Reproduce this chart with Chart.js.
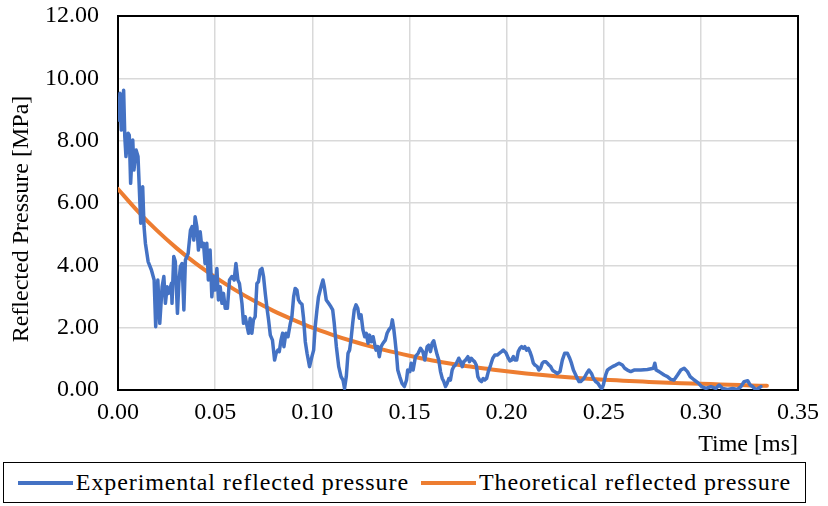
<!DOCTYPE html>
<html>
<head>
<meta charset="utf-8">
<script src="https://cdn.jsdelivr.net/npm/chart.js@4/dist/chart.umd.min.js"></script>
<style>
  html, body { margin: 0; padding: 0; background: #fff; }
  #wrap { position: relative; width: 828px; height: 506px; }
  #c { position: absolute; left: 0; top: 0; }
  #legend {
    position: absolute; left: 3px; top: 462px; width: 803px; height: 41px;
    box-sizing: border-box; border: 1.5px solid #000;
    display: flex; align-items: center; justify-content: center;
    font-family: "Liberation Serif", "Times New Roman", serif; font-size: 24px; color: #000;
    white-space: nowrap; letter-spacing: 0.9px;
  }
  .item { display: flex; align-items: center; }
  .item + .item { margin-left: 12px; }
  .swatch { width: 55px; height: 4px; margin-right: 3px; }
</style>
</head>
<body>
<div id="wrap">
  <canvas id="c" width="828" height="460"></canvas>
  <div id="legend"></div>
</div>
<script>
// ---- Data (time in ms, pressure in MPa) ----
const seriesNames = ['Experimental reflected pressure', 'Theoretical reflected pressure'];
const seriesColors = ['#4472C4', '#ED7D31'];

const expTime = [
0.0004,0.0010,0.0017,0.0029,0.0035,0.0041,0.0052,0.0058,0.0065,0.0076,0.0082,0.0093,0.0103,0.0110,0.0117,0.0127,0.0134,0.0141,0.0155,0.0172,
0.0186,0.0194,0.0205,0.0215,0.0227,0.0236,0.0244,0.0253,0.0261,0.0275,0.0278,0.0287,0.0295,0.0306,0.0313,0.0321,0.0330,0.0339,0.0347,0.0361,
0.0373,0.0381,0.0390,0.0397,0.0406,0.0414,0.0423,0.0431,0.0440,0.0448,0.0457,0.0465,0.0474,0.0483,0.0491,0.0500,0.0509,0.0517,0.0526,0.0535,
0.0543,0.0552,0.0563,0.0574,0.0586,0.0598,0.0607,0.0617,0.0625,0.0638,0.0646,0.0655,0.0663,0.0672,0.0680,0.0689,0.0697,0.0706,0.0715,0.0723,
0.0732,0.0741,0.0749,0.0758,0.0766,0.0775,0.0784,0.0795,0.0806,0.0814,0.0823,0.0830,0.0839,0.0847,0.0854,0.0864,0.0875,0.0887,0.0895,0.0904,
0.0912,0.0921,0.0929,0.0938,0.0947,0.0955,0.0964,0.0973,0.0986,0.0998,0.1007,0.1015,0.1024,0.1032,0.1045,0.1055,0.1062,0.1072,0.1084,0.1096,
0.1105,0.1113,0.1124,0.1136,0.1148,0.1158,0.1166,0.1175,0.1184,0.1192,0.1199,0.1208,0.1216,0.1225,0.1234,0.1242,0.1251,0.1261,0.1270,0.1278,
0.1287,0.1295,0.1303,0.1313,0.1320,0.1328,0.1337,0.1345,0.1354,0.1364,0.1376,0.1385,0.1393,0.1406,0.1412,0.1419,0.1426,0.1433,0.1440,0.1450,
0.1462,0.1474,0.1485,0.1491,0.1502,0.1509,0.1519,0.1531,0.1545,0.1557,0.1569,0.1579,0.1591,0.1599,0.1608,0.1617,0.1625,0.1634,0.1643,0.1651,
0.1660,0.1669,0.1677,0.1686,0.1694,0.1703,0.1711,0.1720,0.1728,0.1737,0.1746,0.1754,0.1763,0.1772,0.1780,0.1789,0.1801,0.1809,0.1818,0.1826,
0.1835,0.1844,0.1852,0.1861,0.1871,0.1880,0.1888,0.1897,0.1906,0.1918,0.1929,0.1940,0.1952,0.1964,0.1974,0.1983,0.1991,0.1998,0.2009,0.2017,
0.2026,0.2035,0.2043,0.2052,0.2060,0.2069,0.2077,0.2086,0.2094,0.2103,0.2112,0.2120,0.2129,0.2138,0.2146,0.2158,0.2166,0.2175,0.2184,0.2192,
0.2201,0.2210,0.2218,0.2227,0.2236,0.2244,0.2261,0.2275,0.2287,0.2299,0.2313,0.2325,0.2334,0.2344,0.2356,0.2364,0.2373,0.2381,0.2390,0.2398,
0.2412,0.2424,0.2437,0.2447,0.2459,0.2471,0.2481,0.2490,0.2498,0.2510,0.2519,0.2532,0.2545,0.2562,0.2579,0.2596,0.2608,0.2622,0.2639,0.2656,
0.2691,0.2725,0.2756,0.2763,0.2770,0.2785,0.2811,0.2828,0.2845,0.2862,0.2880,0.2897,0.2914,0.2931,0.2945,0.2966,0.2986,0.3004,0.3026,0.3052,
0.3077,0.3094,0.3112,0.3138,0.3163,0.3189,0.3206,0.3223,0.3241,0.3254,0.3266,0.3284,0.3295,0.3309
];
const expPressure = [
8.66,9.52,8.34,9.62,8.13,7.49,8.24,8.18,6.63,8.02,7.06,7.70,7.49,6.42,5.35,6.52,5.24,4.71,4.12,3.85,
3.53,2.03,3.53,2.14,3.31,3.64,2.78,3.31,3.10,3.42,2.78,4.28,4.12,2.46,3.42,3.96,4.06,2.57,4.17,4.38,
5.13,5.24,4.81,5.56,5.24,4.49,5.08,4.60,4.71,4.06,4.71,3.53,4.49,2.99,3.64,3.21,3.90,2.89,3.31,2.78,
3.10,2.62,2.62,3.53,3.64,3.53,4.06,3.53,3.42,2.78,2.14,2.35,2.09,1.82,2.30,1.82,2.25,2.35,3.42,3.47,
3.85,3.90,3.64,3.10,2.67,2.25,1.76,1.60,0.96,1.18,1.28,1.23,1.60,1.82,1.39,1.82,1.71,2.14,2.35,2.99,
3.26,3.21,2.89,2.80,2.75,2.30,1.55,1.18,0.75,1.07,1.28,2.03,2.57,2.99,3.31,3.53,3.31,2.89,2.78,2.67,
2.57,2.14,1.39,0.75,0.43,0.32,0.05,0.43,1.18,1.28,1.60,2.14,2.57,2.73,2.62,2.30,2.41,1.92,1.71,1.82,
1.50,1.76,1.55,1.71,1.50,1.28,1.39,1.07,1.39,1.50,1.60,1.82,1.92,2.03,2.25,1.98,1.60,1.18,0.64,0.43,
0.21,0.11,0.32,0.64,0.59,0.86,0.64,1.07,1.18,1.34,1.23,0.96,1.39,1.44,1.23,1.50,1.58,1.34,1.12,0.96,
0.59,0.37,0.27,0.11,0.21,0.37,0.32,0.64,0.75,0.80,0.91,1.02,0.91,0.75,0.91,0.96,1.07,0.91,1.02,0.96,
0.91,0.80,0.43,0.32,0.27,0.37,0.32,0.37,0.59,0.80,1.02,1.12,1.12,1.18,1.23,1.28,1.23,1.18,1.02,0.93,
0.96,1.07,0.96,0.96,1.23,1.34,1.39,1.34,1.39,1.28,1.34,1.23,1.07,0.86,0.80,0.75,0.64,0.70,0.86,0.91,
0.91,0.86,0.80,0.75,0.64,0.60,0.53,0.59,0.96,1.18,1.18,1.02,0.86,0.64,0.48,0.37,0.27,0.27,0.32,0.37,
0.53,0.64,0.53,0.37,0.27,0.21,0.11,0.05,0.16,0.48,0.64,0.70,0.75,0.80,0.86,0.80,0.70,0.64,0.59,0.64,
0.64,0.66,0.70,0.86,0.64,0.59,0.48,0.43,0.34,0.32,0.48,0.64,0.70,0.59,0.43,0.32,0.23,0.11,0.05,0.11,
0.05,0.16,0.05,0.02,0.05,0.02,0.11,0.27,0.30,0.16,0.11,0.00,0.05,0.11
];

const theoTime = [0.00,0.01,0.02,0.03,0.04,0.05,0.06,0.07,0.08,0.09,0.10,0.11,0.12,0.13,0.14,0.15,0.16,0.17,
  0.18,0.19,0.20,0.21,0.22,0.23,0.24,0.25,0.26,0.27,0.28,0.29,0.30,0.31,0.32,0.33,0.334];
const theoPressure = [6.45,5.75,5.12,4.56,4.06,3.62,3.22,2.86,2.54,2.26,2.00,1.78,1.58,1.40,1.24,1.10,0.97,0.86,
  0.76,0.68,0.60,0.53,0.47,0.42,0.37,0.33,0.30,0.27,0.24,0.22,0.20,0.18,0.16,0.14,0.14];

const xTicks = [0, 0.05, 0.10, 0.15, 0.20, 0.25, 0.30, 0.35];
const yTicks = [0, 2, 4, 6, 8, 10, 12];
const xTitle = 'Time [ms]';
const yTitle = 'Reflected Pressure [MPa]';

// ---- Build ----
const zip = (xs, ys) => xs.map((x, i) => ({ x: x, y: ys[i] }));
const FONT = { family: '"Liberation Serif", "Times New Roman", serif', size: 24 };

const framePlugin = {
  id: 'frame',
  beforeDatasetsDraw(chart) {
    const { ctx, chartArea: a } = chart;
    ctx.save();
    ctx.strokeStyle = '#000';
    ctx.lineWidth = 2;
    ctx.strokeRect(a.left, a.top, a.right - a.left, a.bottom - a.top);
    ctx.restore();
  },
  afterDraw(chart) {
    // y-axis title, placed slightly below the axis centre as in the original
    const { ctx, chartArea: a } = chart;
    ctx.save();
    ctx.font = '24px "Liberation Serif", "Times New Roman", serif';
    ctx.fillStyle = '#000';
    ctx.textAlign = 'center';
    ctx.textBaseline = 'middle';
    ctx.translate(22, (a.top + a.bottom) / 2 + 16);
    ctx.rotate(-Math.PI / 2);
    ctx.fillText(yTitle, 0, 0);
    ctx.restore();
  }
};

new Chart(document.getElementById('c').getContext('2d'), {
  type: 'line',
  data: {
    datasets: [
      { label: seriesNames[0], data: zip(expTime, expPressure), borderColor: seriesColors[0],
        backgroundColor: seriesColors[0], borderWidth: 3.5, pointRadius: 0, tension: 0, fill: false,
        borderJoinStyle: 'round', borderCapStyle: 'round' },
      { label: seriesNames[1], data: zip(theoTime, theoPressure), borderColor: seriesColors[1],
        backgroundColor: seriesColors[1], borderWidth: 4, pointRadius: 0, fill: false,
        cubicInterpolationMode: 'monotone', borderCapStyle: 'round' }
    ]
  },
  options: {
    responsive: false, animation: false, devicePixelRatio: 1,
    layout: { padding: { top: 16, right: 30, left: 0, bottom: 0 } },
    plugins: { legend: { display: false }, tooltip: { enabled: false } },
    scales: {
      x: {
        type: 'linear', min: xTicks[0], max: xTicks[xTicks.length - 1],
        afterBuildTicks: s => { s.ticks = xTicks.map(v => ({ value: v })); },
        ticks: { callback: v => Number(v).toFixed(2), font: FONT, color: '#000', padding: 8,
                 maxRotation: 0, autoSkip: false },
        grid: { color: '#d9d9d9', lineWidth: 1.5, drawTicks: false },
        border: { color: '#000', width: 2 },
        title: { display: true, text: xTitle, align: 'end', font: FONT, color: '#000',
                 padding: { top: 0, bottom: 1 } },
        afterFit: s => { s.height = 70; s.paddingLeft = 0; s.paddingRight = 0; }
      },
      y: {
        min: yTicks[0], max: yTicks[yTicks.length - 1],
        afterBuildTicks: s => { s.ticks = yTicks.map(v => ({ value: v })); },
        ticks: { callback: v => Number(v).toFixed(2), font: FONT, color: '#000', padding: 19 },
        grid: { color: '#d9d9d9', lineWidth: 1.5, drawTicks: false },
        border: { color: '#000', width: 2 },
        title: { display: false, text: yTitle },
        afterFit: s => { s.width = 118; s.paddingTop = 0; s.paddingBottom = 0; }
      }
    }
  },
  plugins: [framePlugin]
});

// ---- HTML legend ----
const legend = document.getElementById('legend');
seriesNames.forEach((name, i) => {
  const item = document.createElement('div');
  item.className = 'item';
  const sw = document.createElement('span');
  sw.className = 'swatch';
  sw.style.background = seriesColors[i];
  const tx = document.createElement('span');
  tx.textContent = name;
  item.appendChild(sw);
  item.appendChild(tx);
  legend.appendChild(item);
});
</script>
</body>
</html>
